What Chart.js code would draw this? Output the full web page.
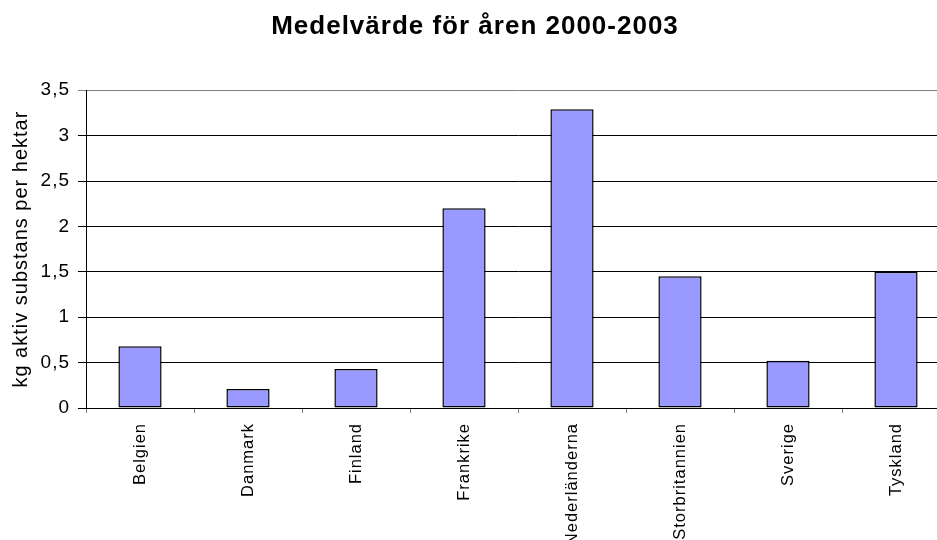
<!DOCTYPE html>
<html lang="sv">
<head>
<meta charset="utf-8">
<title>Medelvärde för åren 2000-2003</title>
<script src="https://cdn.jsdelivr.net/npm/chart.js@4.4.1/dist/chart.umd.min.js"></script>
<style>
  html, body { margin: 0; padding: 0; background: #fff; overflow: hidden; }
  #chart-wrap { width: 937px; height: 540px; overflow: hidden; }
  canvas { display: block; }
</style>
</head>
<body>
<div id="chart-wrap">
  <canvas id="chart-medel" width="950" height="540"></canvas>
</div>
<script>
// Mean values per country, 2000-2003
const countries = ['Belgien', 'Danmark', 'Finland', 'Frankrike', 'Nederländerna', 'Storbritannien', 'Sverige', 'Tyskland'];
const kgPerHektar = [0.68, 0.21, 0.43, 2.2, 3.29, 1.45, 0.52, 1.5];
const yTicks = [0, 0.5, 1, 1.5, 2, 2.5, 3, 3.5];

const FONT = '"Liberation Sans", Arial, Helvetica, sans-serif';

// Slightly wider letter spacing for all canvas text
const letterSpacing = {
    id: 'letterSpacing',
    beforeLayout(chart) { chart.ctx.letterSpacing = '1px'; },
    beforeDraw(chart) { chart.ctx.letterSpacing = '1px'; }
};

function formatDecimal(value) {
    return String(value).replace('.', ',');
}

function initMedelChart() {
    const ctx = document.getElementById('chart-medel');
    if (!ctx) return;

    new Chart(ctx, {
        type: 'bar',
        data: {
            labels: countries,
            datasets: [{
                label: 'kg aktiv substans per hektar',
                data: kgPerHektar,
                backgroundColor: '#9999ff',
                borderColor: '#000',
                borderWidth: 1.5,
                borderSkipped: false,
                barPercentage: 0.4,
                categoryPercentage: 1
            }]
        },
        options: {
            responsive: false,
            animation: false,
            layout: { padding: 0 },
            plugins: {
                legend: { display: false },
                tooltip: { enabled: false },
                title: {
                    display: true,
                    text: 'Medelvärde för åren 2000-2003',
                    color: '#000',
                    font: { family: FONT, size: 26, weight: 'bold' },
                    padding: { top: 11, bottom: 48 }
                }
            },
            scales: {
                x: {
                    grid: {
                        display: true,
                        drawOnChartArea: false,
                        drawTicks: true,
                        tickLength: 5,
                        color: '#808080',
                        offset: true
                    },
                    border: { display: true, color: '#000', width: 1 },
                    ticks: {
                        autoSkip: false,
                        minRotation: 90,
                        maxRotation: 90,
                        padding: 10,
                        color: '#000',
                        font: { family: FONT, size: 16.5 }
                    },
                    afterFit: scale => { scale.height = 132; }
                },
                y: {
                    min: 0,
                    max: 3.5,
                    afterBuildTicks: scale => {
                        scale.ticks = yTicks.map(v => ({ value: v }));
                    },
                    grid: {
                        drawTicks: true,
                        tickLength: 8,
                        lineWidth: 1,
                        color: c => (c.tick && c.tick.value === 3.5 ? '#808080' : '#000')
                    },
                    border: { display: true, color: '#000', width: 1 },
                    ticks: {
                        padding: 8,
                        color: '#000',
                        font: { family: FONT, size: 19 },
                        callback: value => formatDecimal(value)
                    },
                    title: {
                        display: true,
                        text: 'kg aktiv substans per hektar',
                        color: '#000',
                        font: { family: FONT, size: 20 },
                        padding: { top: 9, bottom: 0 }
                    },
                    afterFit: scale => { scale.width = 86; }
                }
            }
        },
        plugins: [letterSpacing]
    });
}

initMedelChart();
</script>
</body>
</html>
